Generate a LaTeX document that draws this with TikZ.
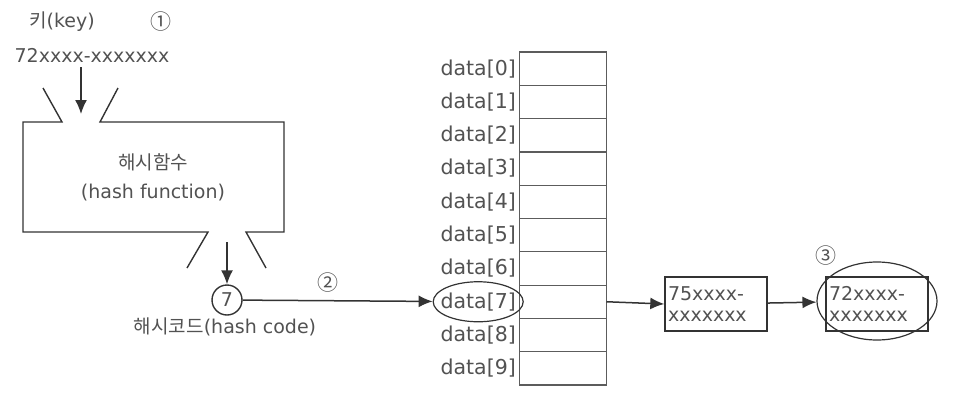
\documentclass[tikz,border=0pt]{standalone}
\usepackage{fontspec}
\setmainfont{DejaVu Sans}
\newfontfamily\krfont{Noto Sans CJK KR}
\usetikzlibrary{shapes.geometric,arrows.meta}
\definecolor{ink}{gray}{0.32}
\definecolor{edge}{gray}{0.2}
\begin{document}
\begin{tikzpicture}[x=1pt,y=-1pt,line width=1.4pt,draw=edge,
    every node/.style={text=ink,font=\fontsize{19}{29}\selectfont},
    link/.style={draw=edge,line width=1.5pt,-{Latex[length=14pt,width=12pt]}},
    cell/.style={draw=edge!80,line width=1.2pt,minimum width=87pt,minimum height=33.3pt,inner sep=0pt,outer sep=0pt},
    rec/.style={draw=edge,minimum height=54pt,text width=96pt,align=left,inner xsep=3pt,inner ysep=3pt,
      font=\fontsize{19}{21}\selectfont},
    ring/.style={draw=edge,line width=1.2pt,ellipse,inner sep=0pt},
    num/.style={font=\krfont\fontsize{21}{21}\selectfont}]
  \useasboundingbox (0,0) rectangle (971,415);
  \def\H{33.3}    %row height
  % key and hash function
  \node (key) at (62,22) {{\krfont 키}(key)};
  \node[num] (n1) at (161,22) {①};
  \node (keyval) at (92,55) {72xxxx-xxxxxxx};
  \coordinate (a1) at (81,67);
  \coordinate (a2) at (81,114);
  \draw (43,88) -- (62,122) -- (23,122) -- (23,232) -- (208,232) -- (187,268);
  \draw (118,88) -- (100,122) -- (284,122) -- (284,232) -- (246,232) -- (266,268);
  \node[align=center] (hf) at (153,177) {{\krfont 해시함수}\\(hash function)};
  \coordinate (a3) at (227,242);
  \node[circle,draw=edge,minimum size=30pt,inner sep=0pt] (code) at (227,300) {7};
  \node (codelbl) at (225,327) {{\krfont 해시코드}(hash code)};
  \node[num] (n2) at (328,283) {②};
  % table
  \foreach \i in {0,...,9} {
    \pgfmathsetmacro\yy{52+\H*\i+\H/2}
    \node[cell] (c\i) at (563,\yy) {};
    \node[anchor=east,inner sep=3pt,font=\fontsize{20.5}{20}\selectfont] (d\i) at (c\i.west) {data[\i]};
  }
  \node[ring,minimum width=90pt,minimum height=40pt] (sel) at (d7.center) {};
  % chain
  \node[rec] (b1) at (716,304) {75xxxx-\\xxxxxxx};
  \node[rec] (b2) at (877,304) {72xxxx-\\xxxxxxx};
  \node[ring,minimum width=120pt,minimum height=78pt] (hit) at (877,301) {};
  \node[num] (n3) at (826,256) {③};
  % arrows
  \draw[link] (a1) -- (a2);
  \draw[link] (a3) -- (code.north);
  \draw[link] (code) -- (sel);
  \draw[link] (c7.east) -- (b1.west);
  \draw[link] (b1) -- (hit);
\end{tikzpicture}
\end{document}
